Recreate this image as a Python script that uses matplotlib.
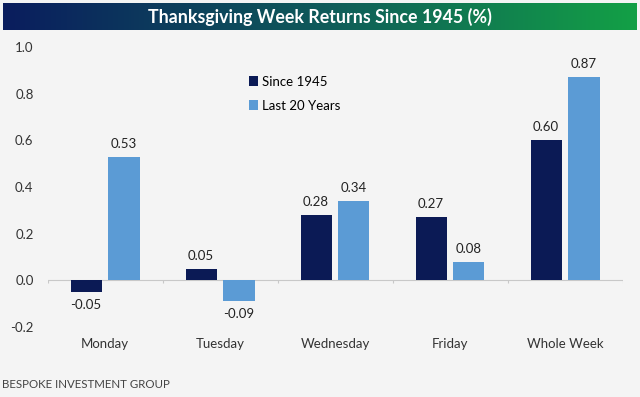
import matplotlib
matplotlib.use("Agg")
import matplotlib.pyplot as plt
import numpy as np
from matplotlib.colors import LinearSegmentedColormap

categories = ["Monday", "Tuesday", "Wednesday", "Friday", "Whole Week"]
since_1945 = [-0.05, 0.05, 0.28, 0.27, 0.60]
last_20 = [0.53, -0.09, 0.34, 0.08, 0.87]
yticks = [-0.2, 0.0, 0.2, 0.4, 0.6, 0.8, 1.0]
title = "Thanksgiving Week Returns Since 1945 (%)"
footer = "BESPOKE INVESTMENT GROUP"

plt.rcParams['font.family'] = ['Lato', 'DejaVu Sans']
bg = "#f4f4f4"
navy = "#0b1a55"
light = "#5b9bd5"

fig = plt.figure(figsize=(6.4, 3.97), dpi=100, facecolor=bg)

# title bar with gradient
tax = fig.add_axes([3/640, 1-30/397, 634/640, 27/397])
grad = np.linspace(0, 1, 256).reshape(1, -1)
cmap = LinearSegmentedColormap.from_list("g", ["#0a1d5e", "#0f5a5a", "#13a046"])
tax.imshow(grad, aspect="auto", cmap=cmap, extent=[0, 1, 0, 1])
tax.set_axis_off()
tax.text(0.5, 0.48, title, color="white", fontsize=12.8, fontweight="bold",
         ha="center", va="center", transform=tax.transAxes)

ax = fig.add_axes([47.5/640, 1-327/397, 575/640, 280/397], facecolor=bg)
x = np.arange(len(categories))
w = 0.27
gap = 0.03
b1 = ax.bar(x - w/2 - gap, since_1945, w, color=navy, label="Since 1945")
b2 = ax.bar(x + w/2 + gap, last_20, w, color=light, label="Last 20 Years")
ax.set_xlim(-0.5, len(categories) - 0.5)
ax.set_ylim(-0.2, 1.0)
ax.set_yticks(yticks)
ax.set_yticklabels([f"{t:.1f}" for t in yticks], fontsize=9.5, color="#333333")
ax.set_xticks(x)
ax.set_xticklabels(categories, fontsize=9.5, color="#333333")
ax.tick_params(length=0, pad=10)
ax.tick_params(axis="x", pad=8)
for s in ax.spines.values():
    s.set_visible(False)
ax.axhline(0, color="#c8c8c8", lw=0.8, zorder=0)
bounds = np.arange(len(categories) + 1) - 0.5
ax.vlines(bounds, -0.013, 0, color="#c8c8c8", lw=0.8, zorder=0)

for bars, vals in ((b1, since_1945), (b2, last_20)):
    for b, v in zip(bars, vals):
        cx = b.get_x() + b.get_width()/2
        if v >= 0:
            ax.annotate(f"{v:.2f}", (cx, v), xytext=(0, 5), textcoords="offset points",
                        ha="center", va="bottom", fontsize=9.5, color="#222222")
        else:
            ax.annotate(f"{v:.2f}", (cx, v), xytext=(0, -5), textcoords="offset points",
                        ha="center", va="top", fontsize=9.5, color="#222222")

leg = ax.legend(loc="upper left", bbox_to_anchor=(0.33, 0.94), frameon=False,
                fontsize=9.5, handlelength=0.7, handleheight=0.7, handletextpad=0.3,
                labelspacing=0.9)

fig.text(2/640, 1-385/397, footer, fontsize=8.3, color="#444444", ha="left", va="center")

fig.savefig("out.png", dpi=100, facecolor=bg)
